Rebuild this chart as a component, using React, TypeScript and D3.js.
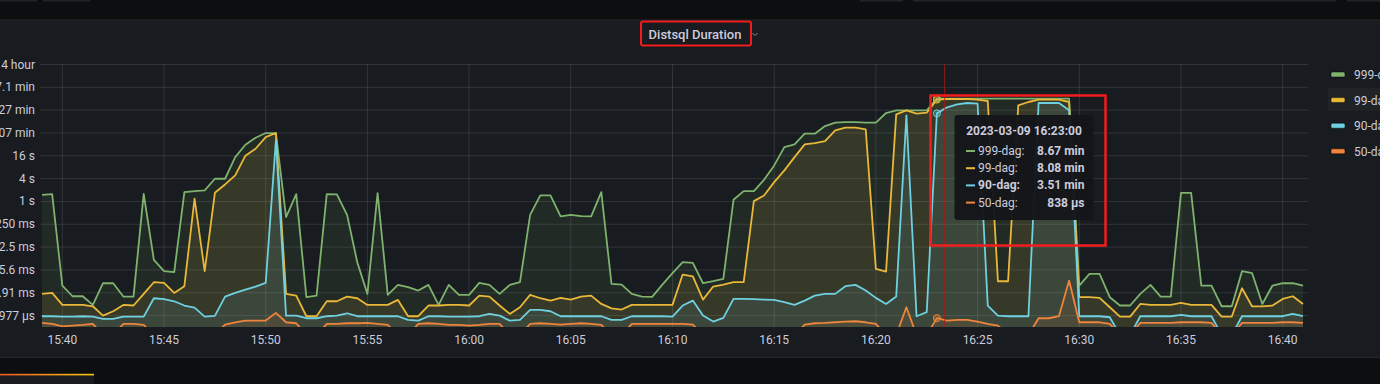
import React from 'react';
import * as d3 from 'd3';

// ---------- data (values in milliseconds, one point every 30 s from 15:39:00) ----------
const startTime = new Date(2023, 2, 9, 15, 39, 0);
const stepSeconds = 30;

const seriesNames = ['999-dag', '99-dag', '90-dag', '50-dag'];
const seriesColors = ['#7EB26D', '#EAB839', '#6ED0E0', '#EF843C'];

const p999 = [
  1500, 1560, 6.05, 3.16, 3.16, 1.87, 6.97, 6.97, 3.10, 3.10,
  1590, 28.8, 14.5, 13.6, 1760, 1870, 1950, 3970, 3970, 14800,
  31400, 48000, 63800, 63800, 386, 1560, 2.98, 3.29, 1560, 1530,
  444, 25.0, 3.65, 1660, 3.43, 6.30, 5.47, 4.46, 6.30, 1.87,
  6.30, 3.43, 3.43, 7.11, 6.30, 3.65, 6.30, 7.41, 444, 1440,
  1440, 402, 444, 410, 402, 1760, 6.7, 6.43, 3.65, 3.10,
  3.05, 6.43, 12.8, 25.0, 24.0, 6.97, 7.87, 9.08, 1107, 1870,
  1870, 3730, 8930, 27200, 32000, 61200, 61200, 97600, 119500, 124400,
  124400, 119500, 119500, 215000, 253000, 253000, 253000, 253000, 520000, 518000,
  516000, 516000, 516000, 516000, 516000, 514000, 514000, 514000, 514000, 514000,
  514000, 514000, 6.05, 12.3, 12.3, 2.98, 1.80, 1.80, 3.65, 6.30,
  3.10, 3.10, 1690, 1690, 6.05, 6.05, 1.72, 1.72, 14.5, 12.8,
  1.98, 6.05, 6.97, 6.97, 6.05,
];

const p99 = [
  3.65, 3.87, 1.87, 1.87, 1.87, 1.72, 0.976, 1.27, 1.87, 1.80,
  3.65, 7.41, 7.11, 3.87, 5.81, 1180, 14.5, 1690, 2810, 4860,
  16100, 24600, 50000, 63800, 3.65, 3.29, 0.939, 0.939, 2.33, 2.33,
  3.10, 2.80, 1.87, 1.87, 1.87, 2.53, 0.939, 0.939, 1.80, 1.80,
  1.87, 1.87, 1.80, 3.29, 3.10, 1.80, 1.08, 1.62, 3.43, 2.80,
  2.43, 2.86, 2.58, 3.10, 3.29, 1.98, 1.52, 1.41, 1.87, 1.87,
  1.87, 1.87, 1.87, 11.8, 10.5, 2.58, 5.70, 6.43, 7.41, 7.41,
  1020, 1440, 3240, 6590, 14800, 32000, 34700, 39200, 75000, 88200,
  88200, 79700, 16.7, 14.2, 198000, 253000, 206500, 219500, 485000, 504000,
  504000, 504000, 484000, 446000, 7.87, 7.87, 343000, 420000, 484000, 484000,
  484000, 420000, 2.98, 2.98, 2.86, 1.62, 0.920, 0.920, 1.98, 1.87,
  1.87, 1.87, 2.11, 1.87, 1.87, 1.87, 0.920, 0.920, 5.14, 1.70,
  1.70, 1.80, 2.69, 3.16, 1.98,
];

const p90 = [
  0.939, 0.939, 0.920, 0.920, 0.939, 0.920, 0.798, 0.798, 0.920, 0.920,
  0.920, 2.80, 2.64, 2.33, 1.80, 1.58, 0.920, 0.957, 3.10, 3.87,
  4.74, 5.70, 7.11, 40800, 0.976, 0.976, 0.831, 0.831, 0.939, 0.976,
  1.125, 0.939, 0.939, 0.939, 0.939, 0.939, 0.751, 0.721, 0.939, 0.939,
  0.920, 0.920, 0.920, 0.939, 1.08, 0.976, 0.721, 0.751, 1.38, 1.38,
  1.27, 0.939, 0.939, 0.939, 0.939, 0.939, 0.751, 0.751, 0.939, 0.939,
  0.939, 0.939, 0.920, 1.80, 2.43, 0.976, 0.679, 0.85, 2.69, 2.69,
  2.64, 2.58, 2.53, 2.20, 1.87, 2.43, 3.29, 3.65, 3.65, 5.81,
  6.30, 4.46, 2.86, 1.98, 3.10, 186600, 0.939, 1.20, 210600, 303600,
  364000, 395000, 379000, 1.80, 0.976, 0.939, 0.939, 0.939, 395000, 395000,
  395000, 253000, 0.939, 0.939, 0.939, 0.883, 0.3, 0.3, 0.939, 0.939,
  0.939, 0.939, 1.02, 0.939, 0.939, 0.939, 0.3, 0.3, 0.939, 0.939,
  0.939, 0.939, 0.939, 1.08, 0.939,
];

const p50 = [
  0.625, 0.589, 0.510, 0.531, 0.553, 0.589, 0.3, 0.3, 0.589, 0.589,
  0.553, 0.3, 0.3, 0.3, 0.3, 0.3, 0.3, 0.3, 0.565, 0.651,
  0.721, 0.721, 0.721, 1.15, 0.651, 0.613, 0.3, 0.3, 0.589, 0.589,
  0.613, 0.613, 0.625, 0.589, 0.553, 0.3, 0.3, 0.589, 0.613, 0.589,
  0.553, 0.553, 0.531, 0.553, 0.589, 0.589, 0.3, 0.3, 0.589, 0.613,
  0.589, 0.565, 0.589, 0.613, 0.589, 0.553, 0.3, 0.3, 0.589, 0.589,
  0.589, 0.589, 0.589, 0.589, 0.565, 0.3, 0.3, 0.3, 0.3, 0.3,
  0.3, 0.3, 0.3, 0.3, 0.3, 0.565, 0.613, 0.625, 0.651, 0.679,
  0.693, 0.651, 0.589, 0.3, 0.3, 1.62, 0.3, 0.3, 0.838, 0.721,
  0.751, 0.751, 0.679, 0.589, 0.531, 0.3, 0.3, 0.3, 0.831, 0.831,
  0.939, 8.20, 0.651, 0.651, 0.651, 0.589, 0.3, 0.3, 0.625, 0.625,
  0.625, 0.625, 0.651, 0.651, 0.651, 0.625, 0.3, 0.3, 0.625, 0.625,
  0.625, 0.625, 0.651, 0.651, 0.625,
];

const yTickSeconds = [1 / 1024, 1 / 256, 1 / 64, 1 / 16, 0.25, 1, 4, 16, 64, 256, 1024, 4096];
const yTickLabels = ['977 µs', '3.91 ms', '15.6 ms', '62.5 ms', '250 ms', '1 s', '4 s', '16 s', '1.07 min', '4.27 min', '17.1 min', '1.14 hour'];
const xTickLabels = ['15:40', '15:45', '15:50', '15:55', '16:00', '16:05', '16:10', '16:15', '16:20', '16:25', '16:30', '16:35', '16:40'];

const titleText = 'Distsql Duration';
const hoverIndex = 88;
const crosshairTime = new Date(2023, 2, 9, 16, 23, 23);
const highlightedSeries = 2;

// ---------- layout ----------
const W = 1380;
const H = 384;
const plotLeft = 42;
const plotRight = 1303;
const gridLeft = 40;
const gridRight = 1308;
const plotTop = 64.5;
const plotBottom = 327;
const font = 'Roboto, "Noto Sans", sans-serif';
const textColor = 'rgb(204,204,220)';

function fmt(ms: number): string {
  if (ms >= 60000) return (ms / 60000).toFixed(2) + ' min';
  if (ms >= 1000) return (ms / 1000).toFixed(2) + ' s';
  if (ms >= 1) return ms.toFixed(2) + ' ms';
  return Math.round(ms * 1000) + ' µs';
}

export default function App() {
  const series = [p999, p99, p90, p50];
  const times = p999.map((_, i) => new Date(startTime.getTime() + i * stepSeconds * 1000));
  const x = d3.scaleTime().domain([times[0], times[times.length - 1]]).range([plotLeft, plotRight]);
  const y = d3.scaleLog().base(4).domain([1 / 2048, 4096]).range([plotBottom, plotTop]);

  const xTicks = xTickLabels.map((l) => {
    const [h, m] = l.split(':').map(Number);
    return { label: l, t: new Date(2023, 2, 9, h, m, 0) };
  });

  const line = (vals: number[]) =>
    d3.line<number>().x((_, i) => x(times[i])).y((v) => y(v / 1000))(vals) || '';
  const area = (vals: number[]) =>
    d3.area<number>().x((_, i) => x(times[i])).y0(plotBottom).y1((v) => y(v / 1000))(vals) || '';

  const cx = x(crosshairTime);
  const tt = { x: 954.5, y: 115, w: 139, h: 105 };

  return (
    <svg width={W} height={H} style={{ position: 'absolute', left: 0, top: 0, display: 'block' }} fontFamily={font}>
      <defs>
        <clipPath id="plotclip">
          <rect x={gridLeft} y={plotTop - 1} width={gridRight - gridLeft} height={plotBottom - plotTop + 1} />
        </clipPath>
        <linearGradient id="tabgrad" x1="0" x2="1" y1="0" y2="0">
          <stop offset="0" stopColor="#f05a28" />
          <stop offset="1" stopColor="#fbca0a" />
        </linearGradient>
      </defs>
      <rect x={0} y={0} width={W} height={H} fill="#0d0e10" />
      {/* panels above */}
      {[[0, 37], [43, 90], [860, 903], [913, 1336], [1347, 1380]].map(([a, b], i) => (
        <rect key={i} x={a} y={0} width={b - a} height={1.5} fill="#222429" />
      ))}
      {/* main panel */}
      <rect x={-2} y={20} width={W + 4} height={337.5} fill="#181b1f" stroke="#26282d" strokeWidth={1} />
      {/* bottom-left panel tab */}
      <rect x={0} y={375} width={94} height={10} fill="#181b1f" />
      <rect x={0} y={373.8} width={94} height={1.6} fill="url(#tabgrad)" />

      {/* title */}
      <text x={695} y={38.5} textAnchor="middle" fontSize={13} fontWeight={500} fill={textColor}>{titleText}</text>
      <path d="M752.5,33 L755,35.5 L757.5,33" fill="none" stroke="#8e8e95" strokeWidth={1} />
      <rect x={641} y={21.5} width={110} height={24} rx={2} fill="none" stroke="#f21d1d" strokeWidth={2} />

      {/* grid */}
      {yTickSeconds.map((v, i) => (
        <line key={'gy' + i} x1={gridLeft} x2={gridRight} y1={y(v)} y2={y(v)} stroke="rgba(204,204,220,0.14)" strokeWidth={1} />
      ))}
      {xTicks.map((t, i) => (
        <line key={'gx' + i} x1={x(t.t)} x2={x(t.t)} y1={plotTop} y2={plotBottom} stroke="rgba(204,204,220,0.14)" strokeWidth={1} />
      ))}
      {/* y labels */}
      {yTickSeconds.map((v, i) => (
        <text key={'yl' + i} x={35} y={y(v) + 4} textAnchor="end" fontSize={12} fill={textColor}>{yTickLabels[i]}</text>
      ))}
      {/* x labels */}
      {xTicks.map((t, i) => (
        <text key={'xl' + i} x={x(t.t)} y={344} textAnchor="middle" fontSize={12} fill={textColor}>{t.label}</text>
      ))}

      {/* series */}
      <g clipPath="url(#plotclip)">
        {series.map((vals, s) => (
          <g key={'s' + s}>
            <path d={area(vals)} fill={seriesColors[s]} fillOpacity={0.1} />
            <path d={line(vals)} fill="none" stroke={seriesColors[s]} strokeWidth={1.8} strokeLinejoin="round" />
          </g>
        ))}
        <line x1={cx} x2={cx} y1={plotTop} y2={plotBottom} stroke="#b01818" strokeOpacity={0.85} strokeWidth={1} />
        {series.map((vals, s) => (
          <circle key={'h' + s} cx={x(times[hoverIndex])} cy={y(vals[hoverIndex] / 1000)} r={3.5}
            fill={seriesColors[s]} fillOpacity={0.3} stroke={seriesColors[s]} strokeWidth={1} />
        ))}
      </g>

      {/* tooltip */}
      <rect x={tt.x} y={tt.y} width={tt.w} height={tt.h} rx={3} fill="#141619" fillOpacity={0.97} />
      <text x={tt.x + tt.w / 2} y={tt.y + 20} textAnchor="middle" fontSize={12} fontWeight={700} fill={textColor}>
        {d3.timeFormat('%Y-%m-%d %H:%M:%S')(times[hoverIndex])}
      </text>
      {series.map((vals, s) => {
        const ry = tt.y + 36 + s * 17.2;
        return (
          <g key={'tt' + s}>
            <rect x={966} y={ry - 1} width={9} height={2} fill={seriesColors[s]} />
            <text x={978} y={ry + 4} fontSize={12} fontWeight={s === highlightedSeries ? 700 : 400} fill={textColor}>{seriesNames[s] + ':'}</text>
            <text x={1084.5} y={ry + 4} textAnchor="end" fontSize={12} fontWeight={700} fill={textColor}>{fmt(vals[hoverIndex])}</text>
          </g>
        );
      })}
      <rect x={930.5} y={95.5} width={175} height={150} fill="none" stroke="#f21d1d" strokeWidth={2.5} />

      {/* legend */}
      <rect x={1328} y={88} width={60} height={23} fill="rgba(255,255,255,0.035)" />
      {seriesNames.map((n, s) => {
        const ly = 74.5 + s * 25.6;
        return (
          <g key={'lg' + s}>
            <rect x={1331} y={ly - 2.5} width={14} height={5} rx={1.5} fill={seriesColors[s]} stroke="#000" strokeOpacity={0.6} strokeWidth={0.8} />
            <text x={1354} y={ly + 4.5} fontSize={12} fill={textColor}>{n}</text>
          </g>
        );
      })}
    </svg>
  );
}
